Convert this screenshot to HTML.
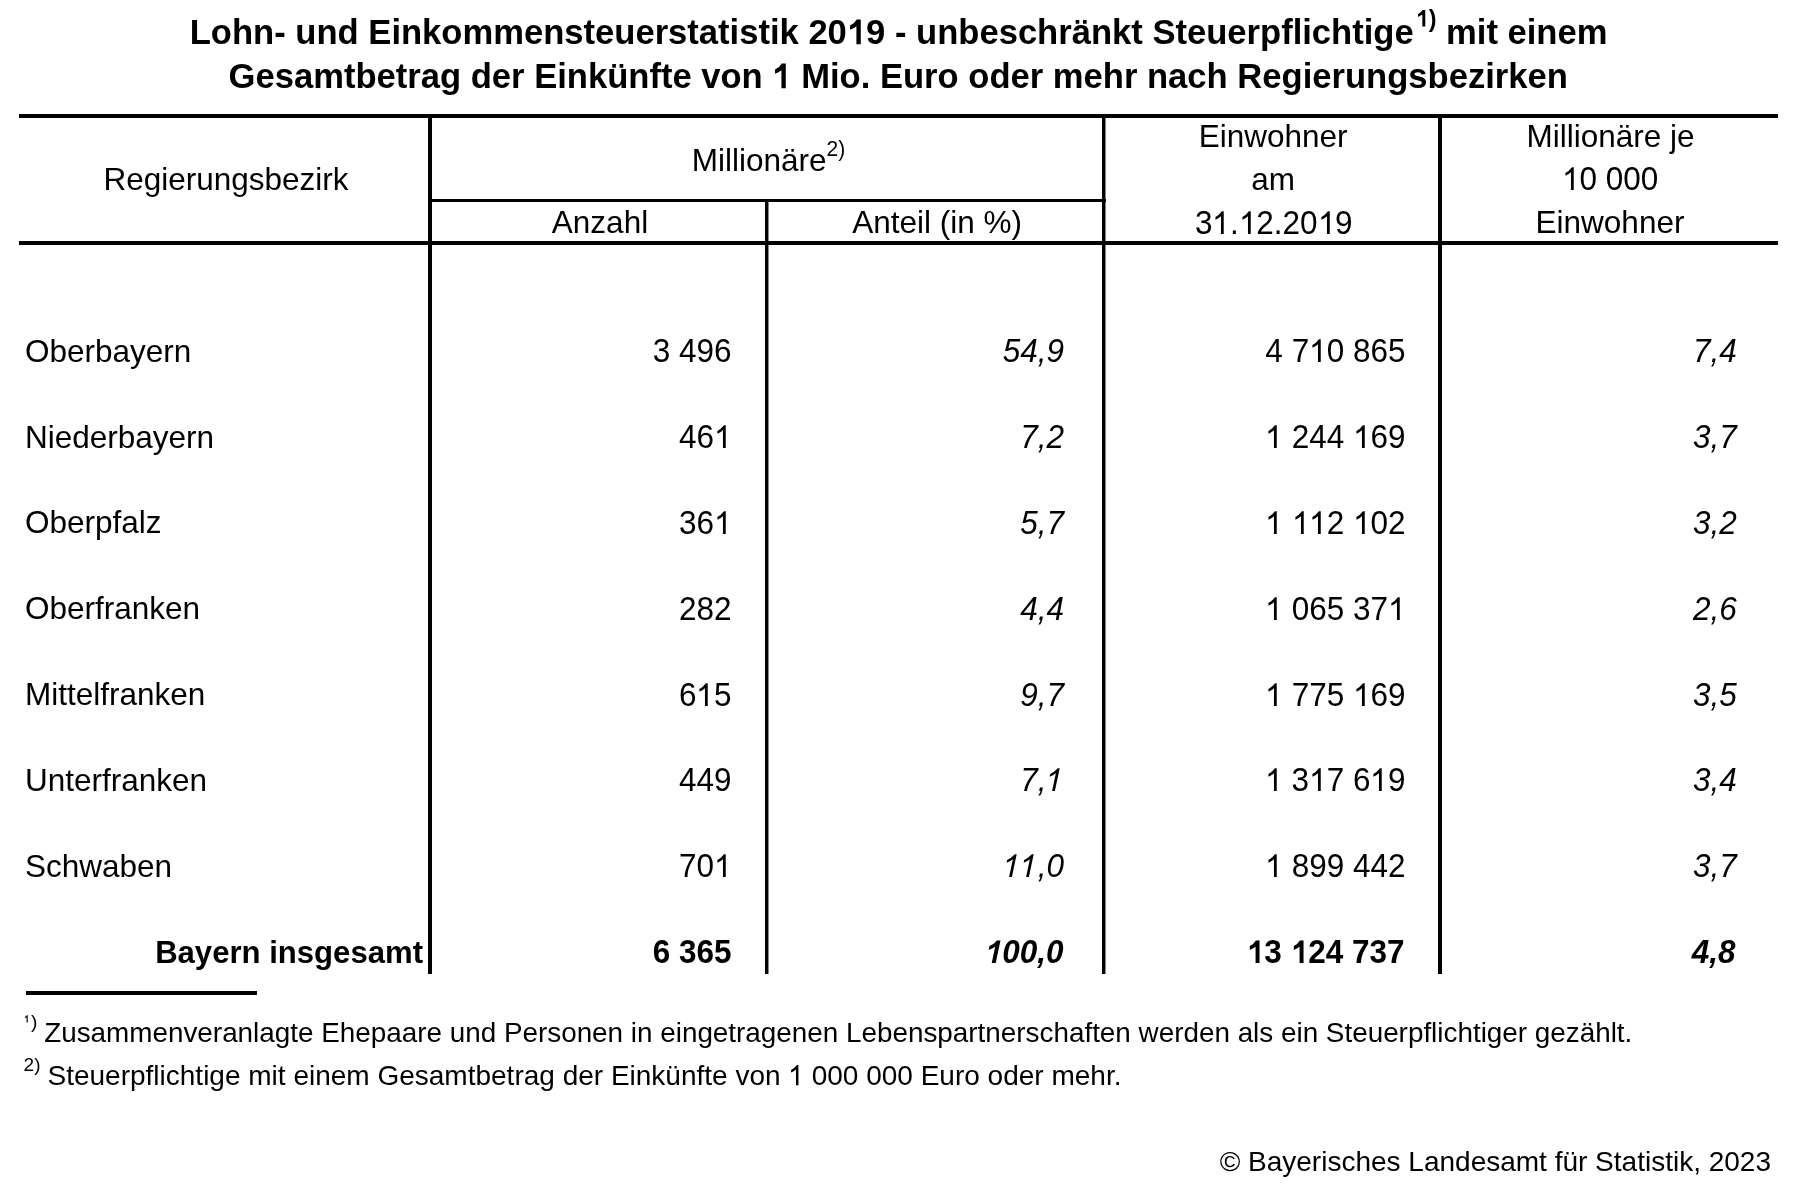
<!DOCTYPE html>
<html><head><meta charset="utf-8"><style>
html,body{margin:0;padding:0;background:#fff;}
body{width:1793px;height:1192px;position:relative;overflow:hidden;font-family:"Liberation Sans",sans-serif;color:#000;-webkit-font-smoothing:antialiased;filter:grayscale(1);}
.r{position:absolute;}
.t{position:absolute;white-space:nowrap;}
.o{display:inline-block;width:0.5562em;height:0.7559em;vertical-align:baseline;fill:currentColor;overflow:visible;}
</style></head><body>
<div class="t" style="left:-101.40px;width:2000px;text-align:center;top:14.71px;font-size:34.6px;line-height:34.6px;font-weight:700;">Lohn- und Einkommensteuerstatistik 20<svg class="o" viewBox="0 500 1139 1548" preserveAspectRatio="none"><path d="M815 2048H558V989Q390 1118 181 1198V943Q430 838 580 582H815Z"/></svg>9 - unbeschränkt Steuerpflichtige<span style="font-size:23.3px;position:relative;top:-17.2px;margin-left:2px"><svg class="o" viewBox="0 500 1139 1548" preserveAspectRatio="none"><path d="M815 2048H558V989Q390 1118 181 1198V943Q430 838 580 582H815Z"/></svg>)</span> mit einem</div>
<div class="t" style="left:-101.80px;width:2000px;text-align:center;top:59.01px;font-size:34.6px;line-height:34.6px;font-weight:700;">Gesamtbetrag der Einkünfte von <svg class="o" viewBox="0 500 1139 1548" preserveAspectRatio="none"><path d="M815 2048H558V989Q390 1118 181 1198V943Q430 838 580 582H815Z"/></svg> Mio. Euro oder mehr nach Regierungsbezirken</div>
<div class="r" style="left:428px;top:114px;width:4px;height:860px;background:#000"></div>
<div class="r" style="left:765px;top:199px;width:3px;height:775px;background:#000"></div>
<div class="r" style="left:768px;top:199px;width:1px;height:775px;background:#888"></div>
<div class="r" style="left:1102px;top:114px;width:3px;height:860px;background:#000"></div>
<div class="r" style="left:1105px;top:114px;width:1px;height:860px;background:#888"></div>
<div class="r" style="left:1438px;top:114px;width:4px;height:860px;background:#000"></div>
<div class="r" style="left:19px;top:114px;width:1759px;height:4px;background:#000"></div>
<div class="r" style="left:430px;top:199px;width:676px;height:3px;background:#000"></div>
<div class="r" style="left:19px;top:241px;width:1759px;height:4px;background:#000"></div>
<div class="r" style="left:26px;top:991px;width:231px;height:4px;background:#000"></div>
<div class="t" style="left:-774.00px;width:2000px;text-align:center;top:163.94px;font-size:31.5px;line-height:31.5px;">Regierungsbezirk</div>
<div class="t" style="left:-231.60px;width:2000px;text-align:center;top:144.54px;font-size:31.5px;line-height:31.5px;">Millionäre<span style="display:inline-block;font-size:21px;line-height:21px;position:relative;top:-15px;transform:scaleY(1.08);transform-origin:50% 17.8px">2)</span></div>
<div class="t" style="left:-400.00px;width:2000px;text-align:center;top:206.94px;font-size:31.5px;line-height:31.5px;">Anzahl</div>
<div class="t" style="left:-62.80px;width:2000px;text-align:center;top:206.94px;font-size:31.5px;line-height:31.5px;">Anteil (in %)</div>
<div class="t" style="left:273.20px;width:2000px;text-align:center;top:121.14px;font-size:31.5px;line-height:31.5px;">Einwohner</div>
<div class="t" style="left:273.20px;width:2000px;text-align:center;top:163.54px;font-size:31.5px;line-height:31.5px;">am</div>
<div class="t" style="left:273.80px;width:2000px;text-align:center;top:207.54px;font-size:31.5px;line-height:31.5px;transform:scaleY(1.035);transform-origin:50% 26.66px;">3<svg class="o" style="height:0.7303em" viewBox="0 500 1139 1548" preserveAspectRatio="none"><path d="M763 2048H583V901Q430 1038 223 1118V944Q470 818 646 576H763Z"/></svg>.<svg class="o" style="height:0.7303em" viewBox="0 500 1139 1548" preserveAspectRatio="none"><path d="M763 2048H583V901Q430 1038 223 1118V944Q470 818 646 576H763Z"/></svg>2.20<svg class="o" style="height:0.7303em" viewBox="0 500 1139 1548" preserveAspectRatio="none"><path d="M763 2048H583V901Q430 1038 223 1118V944Q470 818 646 576H763Z"/></svg>9</div>
<div class="t" style="left:610.50px;width:2000px;text-align:center;top:120.94px;font-size:31.5px;line-height:31.5px;">Millionäre je</div>
<div class="t" style="left:610.20px;width:2000px;text-align:center;top:164.14px;font-size:31.5px;line-height:31.5px;transform:scaleY(1.035);transform-origin:50% 26.66px;"><svg class="o" style="height:0.7303em" viewBox="0 500 1139 1548" preserveAspectRatio="none"><path d="M763 2048H583V901Q430 1038 223 1118V944Q470 818 646 576H763Z"/></svg>0 000</div>
<div class="t" style="left:610.00px;width:2000px;text-align:center;top:206.54px;font-size:31.5px;line-height:31.5px;">Einwohner</div>
<div class="t" style="left:25.00px;top:335.74px;font-size:31.5px;line-height:31.5px;">Oberbayern</div>
<div class="t" style="right:1061.50px;text-align:right;top:336.34px;font-size:31.5px;line-height:31.5px;transform:scaleY(1.035);transform-origin:50% 26.66px;">3 496</div>
<div class="t" style="right:729.00px;text-align:right;top:336.34px;font-size:31.5px;line-height:31.5px;font-style:italic;transform:scaleY(1.035);transform-origin:50% 26.66px;">54,9</div>
<div class="t" style="right:387.50px;text-align:right;top:336.34px;font-size:31.5px;line-height:31.5px;transform:scaleY(1.035);transform-origin:50% 26.66px;">4 7<svg class="o" style="height:0.7303em" viewBox="0 500 1139 1548" preserveAspectRatio="none"><path d="M763 2048H583V901Q430 1038 223 1118V944Q470 818 646 576H763Z"/></svg>0 865</div>
<div class="t" style="right:56.20px;text-align:right;top:336.34px;font-size:31.5px;line-height:31.5px;font-style:italic;transform:scaleY(1.035);transform-origin:50% 26.66px;">7,4</div>
<div class="t" style="left:25.00px;top:421.54px;font-size:31.5px;line-height:31.5px;">Niederbayern</div>
<div class="t" style="right:1061.50px;text-align:right;top:422.14px;font-size:31.5px;line-height:31.5px;transform:scaleY(1.035);transform-origin:50% 26.66px;">46<svg class="o" style="height:0.7303em" viewBox="0 500 1139 1548" preserveAspectRatio="none"><path d="M763 2048H583V901Q430 1038 223 1118V944Q470 818 646 576H763Z"/></svg></div>
<div class="t" style="right:729.00px;text-align:right;top:422.14px;font-size:31.5px;line-height:31.5px;font-style:italic;transform:scaleY(1.035);transform-origin:50% 26.66px;">7,2</div>
<div class="t" style="right:387.50px;text-align:right;top:422.14px;font-size:31.5px;line-height:31.5px;transform:scaleY(1.035);transform-origin:50% 26.66px;"><svg class="o" style="height:0.7303em" viewBox="0 500 1139 1548" preserveAspectRatio="none"><path d="M763 2048H583V901Q430 1038 223 1118V944Q470 818 646 576H763Z"/></svg> 244 <svg class="o" style="height:0.7303em" viewBox="0 500 1139 1548" preserveAspectRatio="none"><path d="M763 2048H583V901Q430 1038 223 1118V944Q470 818 646 576H763Z"/></svg>69</div>
<div class="t" style="right:56.20px;text-align:right;top:422.14px;font-size:31.5px;line-height:31.5px;font-style:italic;transform:scaleY(1.035);transform-origin:50% 26.66px;">3,7</div>
<div class="t" style="left:25.00px;top:507.34px;font-size:31.5px;line-height:31.5px;">Oberpfalz</div>
<div class="t" style="right:1061.50px;text-align:right;top:507.94px;font-size:31.5px;line-height:31.5px;transform:scaleY(1.035);transform-origin:50% 26.66px;">36<svg class="o" style="height:0.7303em" viewBox="0 500 1139 1548" preserveAspectRatio="none"><path d="M763 2048H583V901Q430 1038 223 1118V944Q470 818 646 576H763Z"/></svg></div>
<div class="t" style="right:729.00px;text-align:right;top:507.94px;font-size:31.5px;line-height:31.5px;font-style:italic;transform:scaleY(1.035);transform-origin:50% 26.66px;">5,7</div>
<div class="t" style="right:387.50px;text-align:right;top:507.94px;font-size:31.5px;line-height:31.5px;transform:scaleY(1.035);transform-origin:50% 26.66px;"><svg class="o" style="height:0.7303em" viewBox="0 500 1139 1548" preserveAspectRatio="none"><path d="M763 2048H583V901Q430 1038 223 1118V944Q470 818 646 576H763Z"/></svg> <svg class="o" style="height:0.7303em" viewBox="0 500 1139 1548" preserveAspectRatio="none"><path d="M763 2048H583V901Q430 1038 223 1118V944Q470 818 646 576H763Z"/></svg><svg class="o" style="height:0.7303em" viewBox="0 500 1139 1548" preserveAspectRatio="none"><path d="M763 2048H583V901Q430 1038 223 1118V944Q470 818 646 576H763Z"/></svg>2 <svg class="o" style="height:0.7303em" viewBox="0 500 1139 1548" preserveAspectRatio="none"><path d="M763 2048H583V901Q430 1038 223 1118V944Q470 818 646 576H763Z"/></svg>02</div>
<div class="t" style="right:56.20px;text-align:right;top:507.94px;font-size:31.5px;line-height:31.5px;font-style:italic;transform:scaleY(1.035);transform-origin:50% 26.66px;">3,2</div>
<div class="t" style="left:25.00px;top:593.14px;font-size:31.5px;line-height:31.5px;">Oberfranken</div>
<div class="t" style="right:1061.50px;text-align:right;top:593.74px;font-size:31.5px;line-height:31.5px;transform:scaleY(1.035);transform-origin:50% 26.66px;">282</div>
<div class="t" style="right:729.00px;text-align:right;top:593.74px;font-size:31.5px;line-height:31.5px;font-style:italic;transform:scaleY(1.035);transform-origin:50% 26.66px;">4,4</div>
<div class="t" style="right:387.50px;text-align:right;top:593.74px;font-size:31.5px;line-height:31.5px;transform:scaleY(1.035);transform-origin:50% 26.66px;"><svg class="o" style="height:0.7303em" viewBox="0 500 1139 1548" preserveAspectRatio="none"><path d="M763 2048H583V901Q430 1038 223 1118V944Q470 818 646 576H763Z"/></svg> 065 37<svg class="o" style="height:0.7303em" viewBox="0 500 1139 1548" preserveAspectRatio="none"><path d="M763 2048H583V901Q430 1038 223 1118V944Q470 818 646 576H763Z"/></svg></div>
<div class="t" style="right:56.20px;text-align:right;top:593.74px;font-size:31.5px;line-height:31.5px;font-style:italic;transform:scaleY(1.035);transform-origin:50% 26.66px;">2,6</div>
<div class="t" style="left:25.00px;top:678.94px;font-size:31.5px;line-height:31.5px;">Mittelfranken</div>
<div class="t" style="right:1061.50px;text-align:right;top:679.54px;font-size:31.5px;line-height:31.5px;transform:scaleY(1.035);transform-origin:50% 26.66px;">6<svg class="o" style="height:0.7303em" viewBox="0 500 1139 1548" preserveAspectRatio="none"><path d="M763 2048H583V901Q430 1038 223 1118V944Q470 818 646 576H763Z"/></svg>5</div>
<div class="t" style="right:729.00px;text-align:right;top:679.54px;font-size:31.5px;line-height:31.5px;font-style:italic;transform:scaleY(1.035);transform-origin:50% 26.66px;">9,7</div>
<div class="t" style="right:387.50px;text-align:right;top:679.54px;font-size:31.5px;line-height:31.5px;transform:scaleY(1.035);transform-origin:50% 26.66px;"><svg class="o" style="height:0.7303em" viewBox="0 500 1139 1548" preserveAspectRatio="none"><path d="M763 2048H583V901Q430 1038 223 1118V944Q470 818 646 576H763Z"/></svg> 775 <svg class="o" style="height:0.7303em" viewBox="0 500 1139 1548" preserveAspectRatio="none"><path d="M763 2048H583V901Q430 1038 223 1118V944Q470 818 646 576H763Z"/></svg>69</div>
<div class="t" style="right:56.20px;text-align:right;top:679.54px;font-size:31.5px;line-height:31.5px;font-style:italic;transform:scaleY(1.035);transform-origin:50% 26.66px;">3,5</div>
<div class="t" style="left:25.00px;top:764.74px;font-size:31.5px;line-height:31.5px;">Unterfranken</div>
<div class="t" style="right:1061.50px;text-align:right;top:765.34px;font-size:31.5px;line-height:31.5px;transform:scaleY(1.035);transform-origin:50% 26.66px;">449</div>
<div class="t" style="right:729.00px;text-align:right;top:765.34px;font-size:31.5px;line-height:31.5px;font-style:italic;transform:scaleY(1.035);transform-origin:50% 26.66px;">7,<svg class="o" style="height:0.7303em" viewBox="0 500 1139 1548" preserveAspectRatio="none"><path transform="matrix(1 0 -0.2126 1 249.4 0)" d="M763 2048H583V901Q430 1038 223 1118V944Q470 818 646 576H763Z"/></svg></div>
<div class="t" style="right:387.50px;text-align:right;top:765.34px;font-size:31.5px;line-height:31.5px;transform:scaleY(1.035);transform-origin:50% 26.66px;"><svg class="o" style="height:0.7303em" viewBox="0 500 1139 1548" preserveAspectRatio="none"><path d="M763 2048H583V901Q430 1038 223 1118V944Q470 818 646 576H763Z"/></svg> 3<svg class="o" style="height:0.7303em" viewBox="0 500 1139 1548" preserveAspectRatio="none"><path d="M763 2048H583V901Q430 1038 223 1118V944Q470 818 646 576H763Z"/></svg>7 6<svg class="o" style="height:0.7303em" viewBox="0 500 1139 1548" preserveAspectRatio="none"><path d="M763 2048H583V901Q430 1038 223 1118V944Q470 818 646 576H763Z"/></svg>9</div>
<div class="t" style="right:56.20px;text-align:right;top:765.34px;font-size:31.5px;line-height:31.5px;font-style:italic;transform:scaleY(1.035);transform-origin:50% 26.66px;">3,4</div>
<div class="t" style="left:25.00px;top:850.54px;font-size:31.5px;line-height:31.5px;">Schwaben</div>
<div class="t" style="right:1061.50px;text-align:right;top:851.14px;font-size:31.5px;line-height:31.5px;transform:scaleY(1.035);transform-origin:50% 26.66px;">70<svg class="o" style="height:0.7303em" viewBox="0 500 1139 1548" preserveAspectRatio="none"><path d="M763 2048H583V901Q430 1038 223 1118V944Q470 818 646 576H763Z"/></svg></div>
<div class="t" style="right:729.00px;text-align:right;top:851.14px;font-size:31.5px;line-height:31.5px;font-style:italic;transform:scaleY(1.035);transform-origin:50% 26.66px;"><svg class="o" style="height:0.7303em" viewBox="0 500 1139 1548" preserveAspectRatio="none"><path transform="matrix(1 0 -0.2126 1 249.4 0)" d="M763 2048H583V901Q430 1038 223 1118V944Q470 818 646 576H763Z"/></svg><svg class="o" style="height:0.7303em" viewBox="0 500 1139 1548" preserveAspectRatio="none"><path transform="matrix(1 0 -0.2126 1 249.4 0)" d="M763 2048H583V901Q430 1038 223 1118V944Q470 818 646 576H763Z"/></svg>,0</div>
<div class="t" style="right:387.50px;text-align:right;top:851.14px;font-size:31.5px;line-height:31.5px;transform:scaleY(1.035);transform-origin:50% 26.66px;"><svg class="o" style="height:0.7303em" viewBox="0 500 1139 1548" preserveAspectRatio="none"><path d="M763 2048H583V901Q430 1038 223 1118V944Q470 818 646 576H763Z"/></svg> 899 442</div>
<div class="t" style="right:56.20px;text-align:right;top:851.14px;font-size:31.5px;line-height:31.5px;font-style:italic;transform:scaleY(1.035);transform-origin:50% 26.66px;">3,7</div>
<div class="t" style="right:1370.00px;text-align:right;top:937.27px;font-size:31.1px;line-height:31.1px;font-weight:700;">Bayern insgesamt</div>
<div class="t" style="right:1061.50px;text-align:right;top:936.54px;font-size:31.5px;line-height:31.5px;font-weight:700;transform:scaleY(1.035);transform-origin:50% 26.66px;">6 365</div>
<div class="t" style="right:729.50px;text-align:right;top:936.54px;font-size:31.5px;line-height:31.5px;font-weight:700;font-style:italic;transform:scaleY(1.035);transform-origin:50% 26.66px;"><svg class="o" style="height:0.7303em" viewBox="0 500 1139 1548" preserveAspectRatio="none"><path transform="matrix(1 0 -0.2126 1 315.4 0)" d="M815 2048H558V989Q390 1118 181 1198V943Q430 838 580 582H815Z"/></svg>00,0</div>
<div class="t" style="right:388.50px;text-align:right;top:936.54px;font-size:31.5px;line-height:31.5px;font-weight:700;transform:scaleY(1.035);transform-origin:50% 26.66px;"><svg class="o" style="height:0.7303em" viewBox="0 500 1139 1548" preserveAspectRatio="none"><path d="M815 2048H558V989Q390 1118 181 1198V943Q430 838 580 582H815Z"/></svg>3 <svg class="o" style="height:0.7303em" viewBox="0 500 1139 1548" preserveAspectRatio="none"><path d="M815 2048H558V989Q390 1118 181 1198V943Q430 838 580 582H815Z"/></svg>24 737</div>
<div class="t" style="right:57.50px;text-align:right;top:936.54px;font-size:31.5px;line-height:31.5px;font-weight:700;font-style:italic;transform:scaleY(1.035);transform-origin:50% 26.66px;">4,8</div>
<div class="t" style="left:23.80px;top:1013.87px;font-size:9.6px;line-height:9.6px;"><svg class="o" viewBox="0 500 1139 1548" preserveAspectRatio="none"><path stroke="#000" stroke-width="70" d="M763 2048H583V901Q430 1038 223 1118V944Q470 818 646 576H763Z"/></svg></div>
<div class="t" style="left:30.90px;top:1012.15px;font-size:19.2px;line-height:19.2px;">)</div>
<div class="t" style="left:44.20px;top:1019.02px;font-size:27.85px;line-height:27.85px;">Zusammenveranlagte Ehepaare und Personen in eingetragenen Lebenspartnerschaften werden als ein Steuerpflichtiger gezählt.</div>
<div class="t" style="left:23.60px;top:1055.32px;font-size:19px;line-height:19px;">2)</div>
<div class="t" style="left:47.50px;top:1061.90px;font-size:28.0px;line-height:28.0px;">Steuerpflichtige mit einem Gesamtbetrag der Einkünfte von <svg class="o" viewBox="0 500 1139 1548" preserveAspectRatio="none"><path d="M763 2048H583V901Q430 1038 223 1118V944Q470 818 646 576H763Z"/></svg> 000 000 Euro oder mehr.</div>
<div class="t" style="right:22.00px;text-align:right;top:1147.50px;font-size:28.0px;line-height:28.0px;">© Bayerisches Landesamt für Statistik, 2023</div>
</body></html>
